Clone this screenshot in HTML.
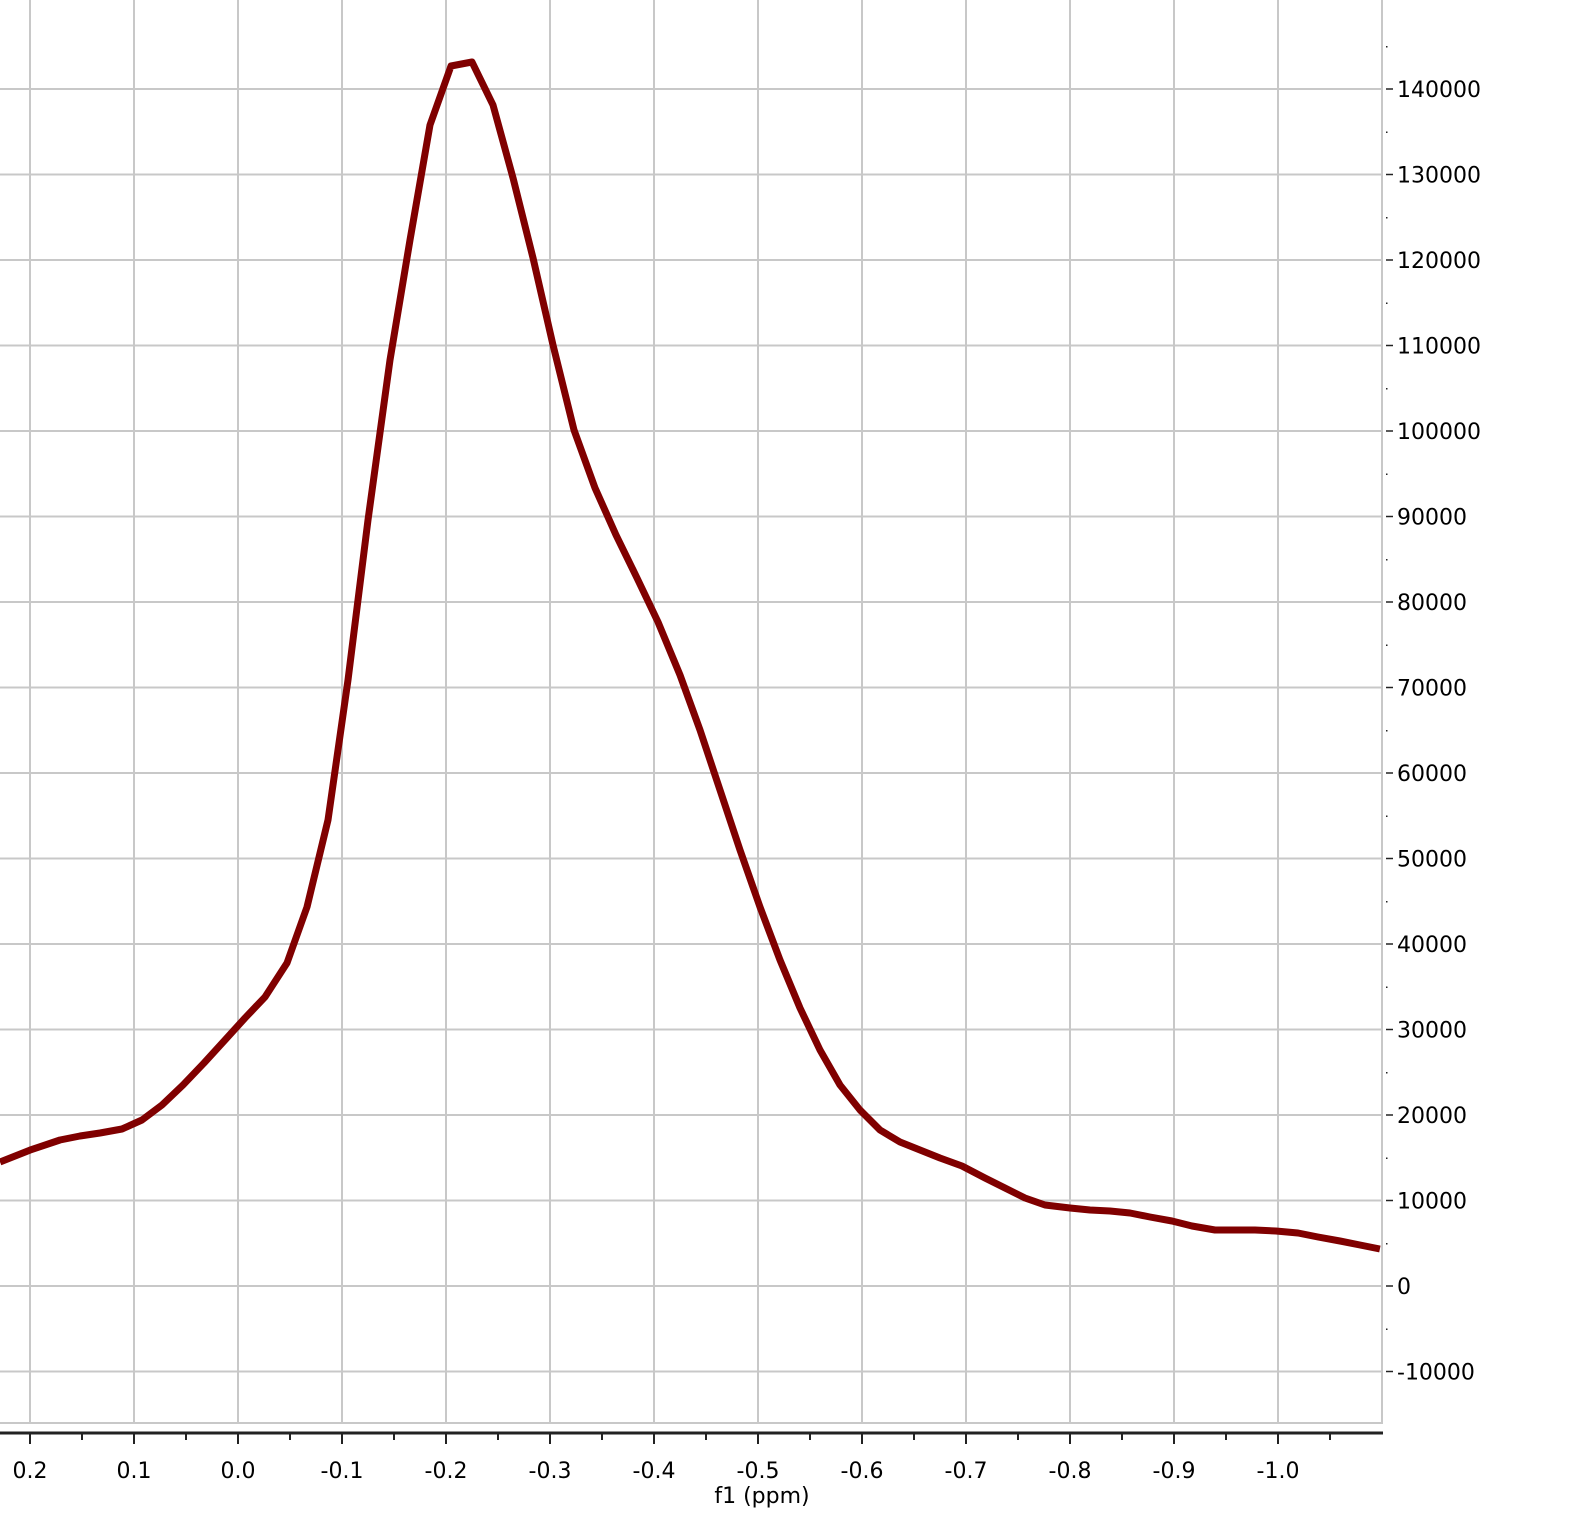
<!DOCTYPE html>
<html><head><meta charset="utf-8"><style>
html,body{margin:0;padding:0;background:#fff}
svg{display:block}
text{font-family:"DejaVu Sans","Liberation Sans",sans-serif;font-size:22px;fill:#000}
</style></head><body>
<svg id="chart" width="1570" height="1538" viewBox="0 0 1570 1538" xmlns="http://www.w3.org/2000/svg">
<defs><clipPath id="pc"><rect x="0" y="0" width="1382" height="1423"/></clipPath></defs>
<g id="grid"></g>
<g id="axes"></g>
<g id="series" clip-path="url(#pc)"></g>
<text x="762" y="1503" text-anchor="middle">f1 (ppm)</text>
</svg>
<script>
const ppm=[0.2288,0.2,0.1712,0.1519,0.1327,0.1115,0.0923,0.0731,0.0529,0.0327,0.0125,-0.0067,-0.026,-0.0471,-0.0663,-0.0865,-0.1058,-0.125,-0.1462,-0.1654,-0.1846,-0.2048,-0.225,-0.2452,-0.2644,-0.2837,-0.3029,-0.3231,-0.3433,-0.3635,-0.3837,-0.4038,-0.425,-0.4442,-0.4635,-0.4827,-0.5019,-0.5212,-0.5404,-0.5596,-0.5788,-0.5981,-0.6173,-0.6365,-0.6558,-0.675,-0.6962,-0.7183,-0.7375,-0.7567,-0.776,-0.8,-0.8192,-0.8385,-0.8577,-0.8769,-0.8981,-0.9173,-0.9394,-0.9587,-0.9779,-0.998,-1.0192,-1.0385,-1.0596,-1.0788,-1.098];
const intensity=[14500,15900,17080,17540,17900,18360,19420,21170,23510,26080,28770,31350,33800,37780,44330,54500,70880,89590,108300,122340,135790,142690,143160,138130,129600,120240,110060,100120,93340,87840,82810,77660,71460,65030,58010,50990,44330,38130,32510,27600,23510,20590,18250,16840,15910,14970,14040,12630,11460,10290,9470,9120,8890,8770,8540,8070,7600,7020,6550,6550,6550,6430,6200,5730,5260,4800,4330];
const xTicks=[0.2,0.1,0.0,-0.1,-0.2,-0.3,-0.4,-0.5,-0.6,-0.7,-0.8,-0.9,-1.0];
const yTicks=[-10000,0,10000,20000,30000,40000,50000,60000,70000,80000,90000,100000,110000,120000,130000,140000];
const X=p=>238-p*1040;
const Y=v=>1286-v*0.00855;
const NS="http://www.w3.org/2000/svg";
function mk(t,a,parent){const e=document.createElementNS(NS,t);for(const k in a)e.setAttribute(k,a[k]);parent.appendChild(e);return e;}
const grid=document.getElementById('grid'),axes=document.getElementById('axes'),series=document.getElementById('series');
xTicks.forEach(p=>{
  const x=X(p);
  const g=mk('line',{x1:x,y1:0,x2:x,y2:1423,stroke:'#c8c8c8','stroke-width':2},grid);
  
  
  const t=mk('line',{x1:x,y1:1433,x2:x,y2:1444,stroke:'#222','stroke-width':2},axes);
  
  
  const m=mk('line',{x1:x+52,y1:1433,x2:x+52,y2:1440,stroke:'#222','stroke-width':2},axes);
  
  
  const l=mk('text',{x:x,y:1478,'text-anchor':'middle'},axes);
  l.textContent=p.toFixed(1);
  
  
});
yTicks.forEach(v=>{
  const y=Y(v);
  const g=mk('line',{x1:0,y1:y,x2:1382,y2:y,stroke:'#c8c8c8','stroke-width':2},grid);
  
  
  const t=mk('line',{x1:1386,y1:y,x2:1393,y2:y,stroke:'#222','stroke-width':1.5},axes);
  
  
  const d=mk('rect',{x:1386,y:y-43,width:1.5,height:1.5,fill:'#222'},axes);
  
  
  const l=mk('text',{x:1397,y:y+8},axes);
  l.textContent=String(v);
  
  
});
const fr=mk('line',{x1:1382,y1:0,x2:1382,y2:1424,stroke:'#c8c8c8','stroke-width':2},grid);


const fb=mk('line',{x1:0,y1:1423,x2:1382,y2:1423,stroke:'#c8c8c8','stroke-width':2},grid);


const ax=mk('line',{x1:0,y1:1433,x2:1383,y2:1433,stroke:'#222','stroke-width':3},axes);


const pts=ppm.map((p,i)=>X(p).toFixed(1)+','+Y(intensity[i]).toFixed(1)).join(' ');
const pl=mk('polyline',{points:pts,fill:'none',stroke:'#800000','stroke-width':7,'stroke-linejoin':'round'},series);


</script>
</body></html>
